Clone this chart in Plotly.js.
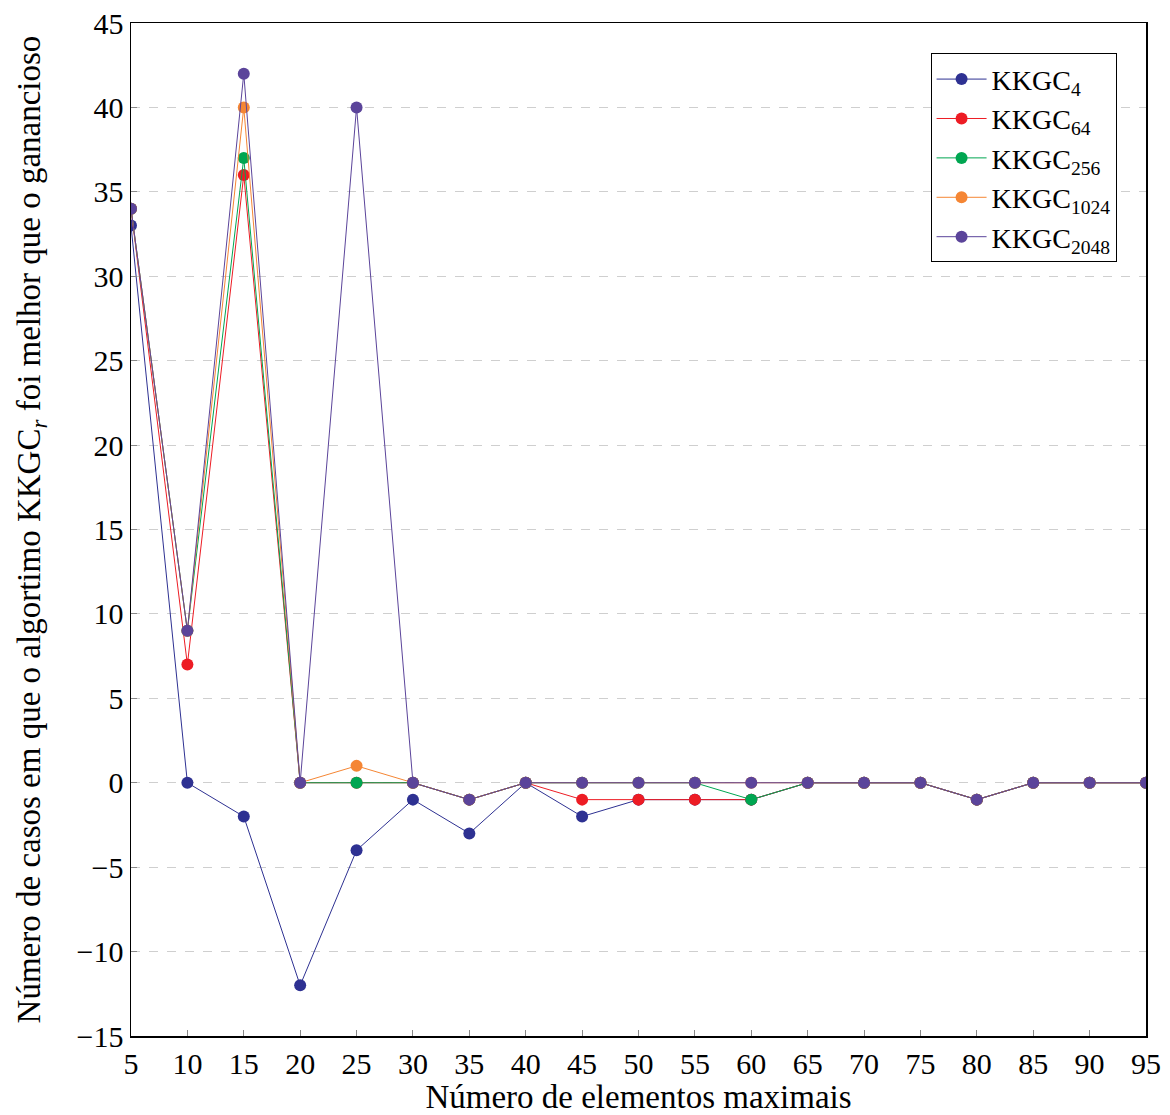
<!DOCTYPE html>
<html>
<head>
<meta charset="utf-8">
<script src="https://cdn.plot.ly/plotly-3.0.1.min.js"></script>
<style>html,body{margin:0;padding:0;background:#fff;}</style>
</head>
<body>
<div id="chart" style="width:1170px;height:1115px;"></div>
<script>
const xValues = [5,10,15,20,25,30,35,40,45,50,55,60,65,70,75,80,85,90,95];
const kkgc4    = [33,0,-2,-12,-4,-1,-3,0,-2,-1,-1,-1,0,0,0,-1,0,0,0];
const kkgc64   = [34,7,36,0,0,0,-1,0,-1,-1,-1,-1,0,0,0,-1,0,0,0];
const kkgc256  = [34,9,37,0,0,0,-1,0,0,0,0,-1,0,0,0,-1,0,0,0];
const kkgc1024 = [34,9,40,0,1,0,-1,0,0,0,0,0,0,0,0,-1,0,0,0];
const kkgc2048 = [34,9,42,0,40,0,-1,0,0,0,0,0,0,0,0,-1,0,0,0];
const seriesNames = ['KKGC<sub>4</sub>','KKGC<sub>64</sub>','KKGC<sub>256</sub>','KKGC<sub>1024</sub>','KKGC<sub>2048</sub>'];
const seriesColors = ['#2E3192','#ED1C24','#00A651','#F58634','#5B449A'];
const seriesData = [kkgc4,kkgc64,kkgc256,kkgc1024,kkgc2048];
const yTicks = [-15,-10,-5,0,5,10,15,20,25,30,35,40,45];
const yTickText = ['\u221215','\u221210','\u22125','0','5','10','15','20','25','30','35','40','45'];

const font = 'Liberation Serif, DejaVu Serif, serif';
const traces = seriesData.map((ys,i)=>({
  x: xValues, y: ys, name: seriesNames[i], type:'scatter', mode:'lines+markers',
  line:{color:seriesColors[i], width:1},
  marker:{color:seriesColors[i], size:12}
}));

const layout = {
  width:1170, height:1115,
  margin:{l:131, r:24, t:23, b:79},
  paper_bgcolor:'#fff', plot_bgcolor:'#fff',
  font:{family:font, size:30, color:'#000'},
  showlegend:true,
  legend:{x:0.971, xanchor:'right', y:0.97, yanchor:'top', bgcolor:'#fff',
    bordercolor:'#000', borderwidth:1, font:{family:font, size:28},
    itemwidth:50, tracegroupgap:0},
  xaxis:{range:[5,95], tickvals:xValues, ticks:'inside', ticklen:6, tickcolor:'#888',
    showgrid:false, zeroline:false, showline:true, linecolor:'#000', linewidth:1.5, mirror:true,
    tickfont:{family:font, size:30},
    title:{text:'Número de elementos maximais', font:{family:font, size:33}, standoff:4}},
  yaxis:{range:[-15,45], tickvals:yTicks, ticktext:yTickText, ticks:'inside', ticklen:6, tickcolor:'#888',
    showgrid:true, gridcolor:'#cfcfcf', griddash:'dash', gridwidth:1,
    zeroline:false, showline:true, linecolor:'#000', linewidth:1.5, mirror:true,
    tickfont:{family:font, size:30},
    title:{text:'Número de casos em que o algortimo KKGC<sub><i>r</i></sub> foi melhor que o ganancioso', font:{family:font, size:33}, standoff:26}}
};
Plotly.newPlot('chart', traces, layout, {displayModeBar:false, staticPlot:true});
</script>
</body>
</html>
